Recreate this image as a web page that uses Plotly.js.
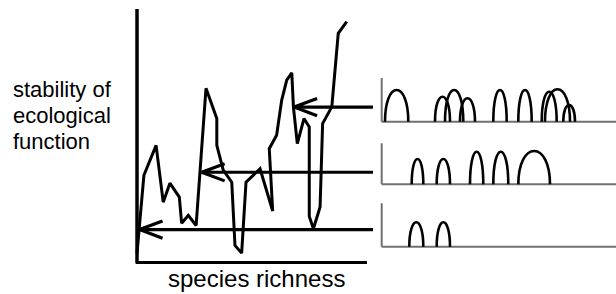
<!DOCTYPE html>
<html><head><meta charset="utf-8">
<script src="https://cdn.plot.ly/plotly-3.0.1.min.js"></script>
<style>html,body{margin:0;padding:0;background:#fff;}#chart{width:616px;height:294px;}</style>
</head><body><div id="chart"></div>
<script>
// ---- main chart data (species richness vs stability, arbitrary units 0-100) ----
const richness=[0,3.0,8.3,11.4,14.3,18.4,19.4,22.3,25.7,30.0,34.7,34.7,37.5,41.2,42.6,45.5,47.4,53.5,59.0,57.5,60.7,62.9,65.1,67.3,68.0,69.7,72.6,74.9,74.9,76.7,79.6,80.7,84.7,87.5,91.2];
const stability=[3.6,34.4,46.2,23.8,31.3,25.8,15.5,18.6,14.6,68.7,56.8,46.2,36.4,31.7,6.7,3.7,31.7,37.0,20.3,44.9,50.2,64.0,71.9,74.8,61.4,46.9,56.8,53.5,18.2,13.3,21.9,54.8,61.4,90.4,95.0];
// ---- arrows (stability level, tip richness, tail richness) ----
const arrowLevel=[61.3,35.6,13.0];
const arrowTip=[68.3,28.1,1.1];
const arrowTail=[102.6,102.6,102.6];
// ---- niche panels: top, middle, bottom ----
const nicheCenter=[[6.38,25.95,30.92,36.62,50.49,61.16,71.49,75.03,80.0],[15.28,26.31,40.52,50.83,65.07],[14.77,26.31]];
const nicheHalfWidth=[[4.97,3.2,3.9,3.2,2.86,2.86,3.2,5.34,2.5],[2.48,2.84,2.84,3.2,6.76],[2.99,2.84]];
const nicheHeight=[[7.37,5.81,7.37,5.44,7.37,7.37,6.98,7.53,3.88],[5.88,5.88,7.58,7.58,7.74],[5.67,5.67]];
const panelAxisTop=[10.16,9.53,10.1];
const yLabelLines=["stability of","ecological","function"];
const xLabel="species richness";

const W=616,H=294;
const fx=px=>px/W, fy=py=>1-py/H;
const FONT='"Liberation Sans", Arial, Helvetica, sans-serif';

// main geometry
const mX0=137,mXs=2.3,mY0=262.5,mYs=2.535;
const mxr=[-3,105], myr=[-3,103];
// panels geometry
const pX0=381.7,pXs=2.343;
const pBase=[121.7,184.3,246.7], pYs=4.3;
const pxr=[-1.2,(616-pX0)/pXs], pyr=[-0.6,10.8];

const blankAxis={showgrid:false,zeroline:false,showline:false,showticklabels:false,ticks:'',fixedrange:true};
const layout={
  width:W,height:H,margin:{l:0,r:0,t:0,b:0,pad:0},
  paper_bgcolor:'#fff',plot_bgcolor:'rgba(0,0,0,0)',showlegend:false,
  xaxis:Object.assign({},blankAxis,{range:mxr,domain:[fx(mX0+mxr[0]*mXs),fx(mX0+mxr[1]*mXs)]}),
  yaxis:Object.assign({},blankAxis,{range:myr,domain:[fy(mY0-myr[0]*mYs),fy(mY0-myr[1]*mYs)]}),
  shapes:[],annotations:[]
};
const data=[];
data.push({type:'scatter',mode:'lines',x:richness,y:stability,xaxis:'x',yaxis:'y',
  line:{color:'#000',width:3,simplify:false},hoverinfo:'skip'});
const dx=10,dy=3.4;
for(let i=0;i<arrowLevel.length;i++){
  const t=arrowTip[i],l=arrowLevel[i];
  data.push({type:'scatter',mode:'lines',xaxis:'x',yaxis:'y',
    x:[arrowTail[i],t,t+dx,null,t,t+dx],y:[l,l,l+dy,null,l,l-dy],
    line:{color:'#000',width:3.2},hoverinfo:'skip'});
}
// main axes
layout.shapes.push({type:'line',xref:'x',yref:'y',x0:0,y0:0,x1:0,y1:100,line:{color:'#000',width:3.5}});
layout.shapes.push({type:'line',xref:'x',yref:'y',x0:-0.6,y0:0,x1:100,y1:0,line:{color:'#000',width:3}});

for(let k=0;k<3;k++){
  const n=k+2, xa='xaxis'+n, ya='yaxis'+n, xr='x'+n, yr='y'+n;
  layout[xa]=Object.assign({},blankAxis,{range:pxr,anchor:yr,domain:[fx(pX0+pxr[0]*pXs),fx(pX0+pxr[1]*pXs)]});
  layout[ya]=Object.assign({},blankAxis,{range:pyr,anchor:xr,domain:[fy(pBase[k]-pyr[0]*pYs),fy(pBase[k]-pyr[1]*pYs)]});
  data.push({type:'scatter',mode:'markers',x:[0],y:[0],xaxis:xr,yaxis:yr,marker:{opacity:0},hoverinfo:'skip'});
  layout.shapes.push({type:'line',xref:xr,yref:yr,x0:0,y0:0,x1:0,y1:panelAxisTop[k],line:{color:'#707070',width:2}});
  layout.shapes.push({type:'line',xref:xr,yref:yr,x0:0,y0:0,x1:pxr[1],y1:0,line:{color:'#707070',width:2}});
  for(let j=0;j<nicheCenter[k].length;j++){
    const c=nicheCenter[k][j],w=nicheHalfWidth[k][j],h=nicheHeight[k][j];
    const p=`M ${c-w},0 C ${c-w},${0.62*h} ${c-0.55*w},${h} ${c},${h} C ${c+0.55*w},${h} ${c+w},${0.62*h} ${c+w},0`;
    layout.shapes.push({type:'path',xref:xr,yref:yr,path:p,line:{color:'#000',width:2.6},layer:'above'});
  }
}
const yBase=[97.3,123.3,149.3];
yLabelLines.forEach((t,i)=>{
  layout.annotations.push({text:t,xref:'paper',yref:'paper',x:fx(11),y:fy(yBase[i]-7.7),
    xanchor:'left',yanchor:'middle',showarrow:false,font:{family:FONT,size:22,color:'#000'}});
});
layout.annotations.push({text:xLabel,xref:'paper',yref:'paper',x:fx(256.7),y:fy(287-8.4),
  xanchor:'center',yanchor:'middle',showarrow:false,font:{family:FONT,size:24,color:'#000'}});

Plotly.newPlot('chart',data,layout,{staticPlot:true,displayModeBar:false});
</script></body></html>
